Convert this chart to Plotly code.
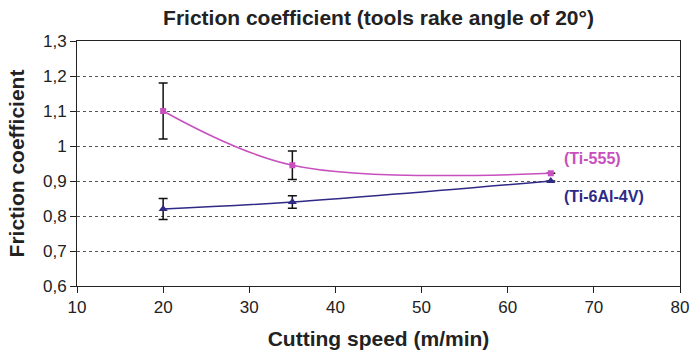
import plotly.graph_objects as go

# Cutting speeds (m/min)
speed = [20, 35, 65]

# Measured friction coefficients and their scatter
ti555 = [1.10, 0.945, 0.922]
ti555_err = [0.08, 0.041, 0.0]
ti64 = [0.82, 0.84, 0.90]
ti64_err = [0.03, 0.018, 0.0]

# Axis ticks
y_ticks = [0.6, 0.7, 0.8, 0.9, 1.0, 1.1, 1.2, 1.3]
y_tick_labels = ["0,6", "0,7", "0,8", "0,9", "1", "1,1", "1,2", "1,3"]
x_ticks = [10, 20, 30, 40, 50, 60, 70, 80]

PINK = "#C84FBE"
NAVY = "#2E2A86"
INK = "#222222"
FONT = "Liberation Sans, Arial, sans-serif"

fig = go.Figure()

fig.add_trace(go.Scatter(
    x=speed, y=ti555, mode="lines+markers",
    line=dict(color=PINK, width=1.5, shape="spline", smoothing=1),
    marker=dict(symbol="square", size=6, color=PINK),
    error_y=dict(type="data", array=ti555_err, visible=True,
                 color="#111111", thickness=1.5, width=4.5),
    showlegend=False,
))
fig.add_trace(go.Scatter(
    x=speed, y=ti64, mode="lines+markers",
    line=dict(color=NAVY, width=1.5, shape="spline", smoothing=1),
    marker=dict(symbol="triangle-up", size=8, color=NAVY),
    error_y=dict(type="data", array=ti64_err, visible=True,
                 color="#111111", thickness=1.5, width=4.5),
    showlegend=False,
))

# Series labels next to the last points
fig.add_annotation(x=66.3, y=0.963, text="<b>(Ti-555)</b>", showarrow=False,
                   xanchor="left", font=dict(family=FONT, size=16, color=PINK))
fig.add_annotation(x=66.3, y=0.855, text="<b>(Ti-6Al-4V)</b>", showarrow=False,
                   xanchor="left", font=dict(family=FONT, size=16, color=NAVY))

fig.update_layout(
    width=691, height=354,
    margin=dict(l=77, r=11, t=41, b=68, autoexpand=False),
    paper_bgcolor="white", plot_bgcolor="white",
    font=dict(family=FONT, color=INK),
    title=dict(text="<b>Friction coefficient (tools rake angle of 20°)</b>",
               x=0.5, xref="paper", xanchor="center",
               y=1 - 18 / 354, yanchor="middle",
               font=dict(family=FONT, size=21, color=INK)),
)

fig.update_xaxes(
    range=[10, 80], tickvals=x_ticks, ticks="outside", ticklen=6,
    tickcolor=INK, tickfont=dict(family=FONT, size=17, color=INK),
    ticklabeloverflow="allow", automargin=False,
    showgrid=False, zeroline=False,
    showline=True, linecolor=INK, linewidth=1, mirror=True,
    title=dict(text="<b>Cutting speed (m/min)</b>", standoff=14,
               font=dict(family=FONT, size=21, color=INK)),
)
fig.update_yaxes(
    range=[0.6, 1.3], tickvals=y_ticks, ticktext=y_tick_labels,
    ticks="outside", ticklen=6, tickcolor=INK, automargin=False,
    tickfont=dict(family=FONT, size=17, color=INK),
    showgrid=True, gridcolor="#555555", griddash="dot", gridwidth=1,
    zeroline=False,
    showline=True, linecolor=INK, linewidth=1, mirror=True,
    title=dict(text="<b>Friction coefficient</b>", standoff=12,
               font=dict(family=FONT, size=21, color=INK)),
)

fig.write_html("out.html")
